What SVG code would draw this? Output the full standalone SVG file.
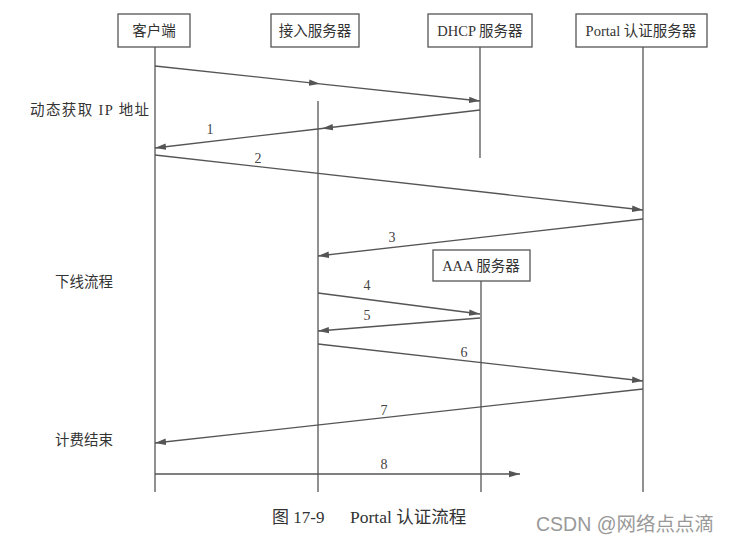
<svg xmlns="http://www.w3.org/2000/svg" width="732" height="545" viewBox="0 0 732 545">
<defs>
<marker id="ah" markerWidth="12" markerHeight="8" refX="11" refY="4" orient="auto" markerUnits="userSpaceOnUse">
<path d="M0,0.8 L11,4 L0,7.2 Z" fill="#555"/>
</marker>
<style>
.box{fill:#fff;stroke:#555;stroke-width:1.3}
.life{stroke:#555;stroke-width:1.3;fill:none}
.msg{stroke:#555;stroke-width:1.3;fill:none}
.t{font-family:"Liberation Serif","Noto Sans CJK SC",serif;fill:#333}
.lbl{font-size:14.5px;text-anchor:middle}
.num{font-family:"Liberation Serif",serif;font-size:14px;fill:#444;text-anchor:middle}
.side{font-size:14.5px}
</style>
</defs>
<rect width="732" height="545" fill="#fff"/>

<g id="lifelines">
<line class="life" x1="155" y1="47" x2="155" y2="492"/>
<line class="life" x1="318" y1="101" x2="318" y2="492"/>
<line class="life" x1="480" y1="47" x2="480" y2="158"/>
<line class="life" x1="643" y1="47" x2="643" y2="492"/>
<line class="life" x1="481" y1="280" x2="481" y2="492"/>
</g>

<g id="client"><rect class="box" x="118" y="14" width="72" height="33"/><text class="t lbl" x="154" y="36">客户端</text></g>
<g id="access"><rect class="box" x="271" y="14" width="88" height="33"/><text class="t lbl" x="315" y="36">接入服务器</text></g>
<g id="dhcp"><rect class="box" x="428" y="14" width="104" height="33"/><text class="t lbl" x="480" y="36">DHCP 服务器</text></g>
<g id="portal"><rect class="box" x="576" y="14" width="131" height="33"/><text class="t lbl" x="641" y="36">Portal 认证服务器</text></g>
<g id="aaa"><rect class="box" x="433" y="250" width="97" height="31"/><text class="t lbl" x="481" y="271">AAA 服务器</text></g>

<g id="connectors">
<polyline class="msg" points="155,66 320,83.8 480,101" marker-mid="url(#ah)" marker-end="url(#ah)"/>
<polyline class="msg" points="480,110 322,128.5 155,148" marker-mid="url(#ah)" marker-end="url(#ah)"/>
<line class="msg" x1="155" y1="155" x2="643" y2="210" marker-end="url(#ah)"/>
<line class="msg" x1="643" y1="219" x2="318" y2="256" marker-end="url(#ah)"/>
<line class="msg" x1="318" y1="293" x2="480" y2="314" marker-end="url(#ah)"/>
<line class="msg" x1="480" y1="318" x2="318" y2="331" marker-end="url(#ah)"/>
<line class="msg" x1="318" y1="344" x2="643" y2="381" marker-end="url(#ah)"/>
<line class="msg" x1="643" y1="389" x2="155" y2="443" marker-end="url(#ah)"/>
<line class="msg" x1="155" y1="474" x2="520" y2="474" marker-end="url(#ah)"/>
</g>

<g id="labels">
<text class="num" x="210" y="134">1</text>
<text class="num" x="258" y="163">2</text>
<text class="num" x="392" y="242">3</text>
<text class="num" x="367" y="290">4</text>
<text class="num" x="367" y="320">5</text>
<text class="num" x="464" y="357">6</text>
<text class="num" x="384" y="415">7</text>
<text class="num" x="384" y="469">8</text>
<text class="t side" x="30" y="115" textLength="119" lengthAdjust="spacing">动态获取 IP 地址</text>
<text class="t side" x="55" y="287">下线流程</text>
<text class="t side" x="55" y="445">计费结束</text>
</g>

<g id="caption">
<text class="t" x="272" y="523" font-size="17">图 17-9</text>
<text class="t" x="350" y="523" font-size="17.5">Portal 认证流程</text>
<text x="536" y="531" font-family="'Liberation Sans','Noto Sans CJK SC',sans-serif" font-size="19.5" fill="#999">CSDN @网络点点滴</text>
</g>
</svg>
